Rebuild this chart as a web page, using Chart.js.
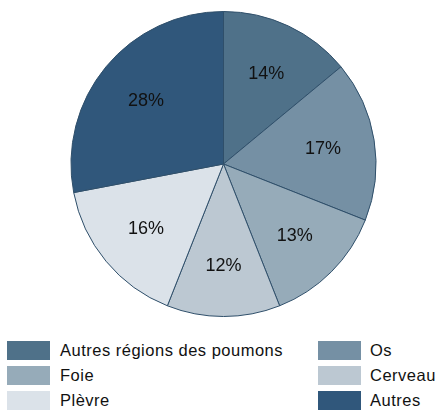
<!DOCTYPE html>
<html><head><meta charset="utf-8">
<script src="https://cdn.jsdelivr.net/npm/chart.js@4/dist/chart.umd.min.js"></script>
<style>
html,body{margin:0;padding:0;background:#fff;}
#wrap{position:relative;width:437px;height:410px;font-family:"Liberation Sans",Arial,sans-serif;}
#c{position:absolute;left:0;top:0;}
.lg{position:absolute;display:flex;align-items:center;font-size:16.5px;letter-spacing:0.5px;color:#111;height:19px;white-space:nowrap;}
.sw{width:43px;height:19px;flex:none;}
</style></head><body>
<div id="wrap"><canvas id="c" width="437" height="330"></canvas></div>
<script>
const categories = ["Autres régions des poumons","Os","Foie","Cerveau","Plèvre","Autres"];
const values = [14,17,13,12,16,28];
const colors = ["#4f7189","#7590a4","#96abb9","#bcc8d2","#dbe2e9","#30577b"];
const legendColumns = [0,1,0,1,0,1];

const labelPlugin = {
  id:'pctLabels',
  afterDatasetsDraw(chart){
    const ctx = chart.ctx;
    const meta = chart.getDatasetMeta(0);
    ctx.save();
    ctx.font = '18px "Liberation Sans", Arial, sans-serif';
    ctx.fillStyle = '#111';
    ctx.textAlign='center'; ctx.textBaseline='middle';
    meta.data.forEach((arc,i)=>{
      const mid = (arc.startAngle+arc.endAngle)/2;
      const r = arc.outerRadius*0.66;
      ctx.fillText(values[i]+'%', arc.x+Math.cos(mid)*r, arc.y+Math.sin(mid)*r+1);
    });
    ctx.restore();
  }
};

new Chart(document.getElementById('c'),{
  type:'pie',
  data:{labels:categories,datasets:[{data:values,backgroundColor:colors,borderColor:'#2f4f6a',borderWidth:1,hoverOffset:0}]},
  options:{
    responsive:false,animation:false,
    layout:{padding:{top:11,bottom:13,left:10,right:0}},
    plugins:{legend:{display:false},tooltip:{enabled:false}}
  },
  plugins:[labelPlugin]
});

const wrap = document.getElementById('wrap');
categories.forEach((c,i)=>{
  const col = legendColumns[i];
  const row = Math.floor(i/2);
  const d = document.createElement('div');
  d.className='lg';
  d.style.left = (col? 318:7)+'px';
  d.style.top = (341+row*25)+'px';
  const s = document.createElement('div'); s.className='sw'; s.style.background=colors[i];
  s.style.marginRight = col ? '9px' : '10px';
  d.appendChild(s);
  d.appendChild(document.createTextNode(c));
  wrap.appendChild(d);
});
</script>
</body></html>
